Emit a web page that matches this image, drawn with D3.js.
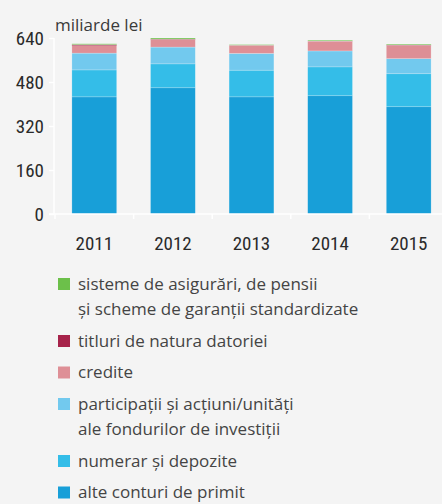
<!DOCTYPE html>
<html lang="ro">
<head>
<meta charset="utf-8">
<script src="https://cdn.jsdelivr.net/npm/d3@7"></script>
<style>
  body { margin: 0; background: #f4f4f4; }
</style>
</head>
<body>
<script>
var width = 442, height = 504;

var years = ["2011", "2012", "2013", "2014", "2015"];
var alteConturi = [426, 459, 426, 430, 390];
var numerar     = [98, 87, 97, 105, 120];
var participatii = [61, 61, 61, 58, 55];
var credite     = [27, 27, 29, 35, 48];
var titluri     = [4, 2, 1, 1, 2];
var sisteme     = [3, 4, 2, 3, 3];
var yTicks = [0, 160, 320, 480, 640];

var seriesNames = ["alte", "numerar", "particip", "credite", "titluri", "sisteme"];
var seriesValues = [alteConturi, numerar, participatii, credite, titluri, sisteme];
var colors = ["#189fd8", "#34bde8", "#72c9ee", "#de8f96", "#a6234a", "#6cc04a"];

var legendItems = [
  { c: "#6cc04a", lines: ["sisteme de asigurări, de pensii", "și scheme de garanții standardizate"] },
  { c: "#a6234a", lines: ["titluri de natura datoriei"] },
  { c: "#de8f96", lines: ["credite"] },
  { c: "#72c9ee", lines: ["participații și acțiuni/unități", "ale fondurilor de investiții"] },
  { c: "#34bde8", lines: ["numerar și depozite"] },
  { c: "#189fd8", lines: ["alte conturi de primit"] }
];

var table = years.map(function (y, i) {
  var row = { year: y };
  seriesNames.forEach(function (k, j) { row[k] = seriesValues[j][i]; });
  return row;
});

var svg = d3.select("body").append("svg")
            .attr("width", width)
            .attr("height", height);

svg.append("rect").attr("width", width).attr("height", height).attr("fill", "#f4f4f4");

var x = d3.scaleBand().domain(years).range([55, 448]).paddingInner(0.43).paddingOuter(0.215);
var y = d3.scaleLinear().domain([0, 640]).range([214, 38]);

var stack = d3.stack().keys(seriesNames)(table);

svg.append("g").selectAll("g")
   .data(stack)
   .enter().append("g")
   .attr("fill", function (d, i) { return colors[i]; })
   .selectAll("rect")
   .data(function (d) { return d; })
   .enter().append("rect")
   .attr("x", function (d) { return x(d.data.year); })
   .attr("width", x.bandwidth())
   .attr("y", function (d) { return y(d[1]); })
   .attr("height", function (d) { return y(d[0]) - y(d[1]); })
   .attr("stroke", "rgba(255,255,255,0.35)")
   .attr("stroke-width", 0.6);

// y axis
var yAxis = svg.append("g").attr("transform", "translate(54,0)")
   .call(d3.axisLeft(y).tickValues(yTicks).tickSize(5).tickPadding(5));
yAxis.select(".domain").attr("stroke", "#fff").attr("stroke-width", 1.5)
     .attr("d", "M0," + y(640) + "V" + y(0));
yAxis.selectAll(".tick line").attr("stroke", "#fff").attr("stroke-width", 1.5);
yAxis.selectAll(".tick text")
     .attr("font-family", "'Roboto Condensed', sans-serif")
     .attr("font-size", 19).attr("fill", "#2a2a2a");

// x axis with ticks between bands
var xg = svg.append("g").attr("transform", "translate(0,214)");
xg.append("line").attr("x1", 49).attr("x2", width).attr("stroke", "#fff").attr("stroke-width", 1.5);
var step = x.step();
xg.selectAll(".sep").data(years).enter().append("line")
  .attr("x1", function (d) { return x(d) - x.paddingInner() * step / 2; })
  .attr("x2", function (d) { return x(d) - x.paddingInner() * step / 2; })
  .attr("y1", 0).attr("y2", 5)
  .attr("stroke", "#fff").attr("stroke-width", 1.5);
xg.selectAll(".lbl").data(years).enter().append("text")
  .attr("x", function (d) { return x(d) + x.bandwidth() / 2; })
  .attr("y", 36)
  .attr("text-anchor", "middle")
  .attr("font-family", "'Roboto Condensed', sans-serif")
  .attr("font-size", 19).attr("fill", "#2a2a2a")
  .text(function (d) { return d; });

svg.append("text").attr("x", 55).attr("y", 31)
   .attr("font-family", "'Open Sans', sans-serif").attr("font-size", 17).attr("fill", "#3a3a3a")
   .text("miliarde lei");

// legend
var ly = 284;
legendItems.forEach(function (it) {
  svg.append("rect").attr("x", 58).attr("y", ly - 6).attr("width", 12).attr("height", 12).attr("fill", it.c);
  it.lines.forEach(function (t, k) {
    svg.append("text").attr("x", 78).attr("y", ly + 5.5 + k * 25.5)
       .attr("font-family", "'Open Sans', sans-serif").attr("font-size", 17).attr("fill", "#444")
       .text(t);
  });
  ly += (it.lines.length - 1) * 25.5 + 31.5;
});
</script>
</body>
</html>
